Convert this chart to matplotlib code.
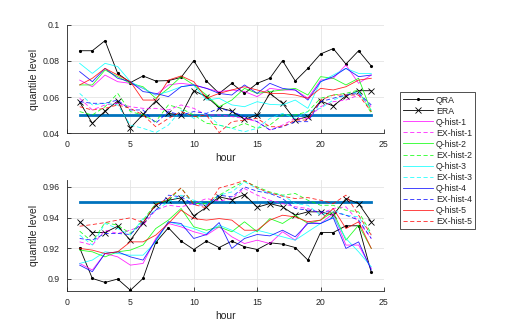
import matplotlib
matplotlib.use("Agg")
import matplotlib.pyplot as plt
from matplotlib.ticker import FuncFormatter

plt.rcParams['font.family'] = ['Liberation Sans', 'DejaVu Sans']

hours = list(range(1, 25))

# ---------- top panel (lower quantile) ----------
top_qra = [0.0857,0.0857,0.0913,0.0731,0.0680,0.0717,0.0689,0.0691,0.0709,0.0802,0.0689,0.0620,
           0.0676,0.0620,0.0676,0.0704,0.0802,0.0689,0.0759,0.0839,0.0869,0.0783,0.0857,0.0772]
top_era = [0.0572,0.0454,0.0522,0.0578,0.0428,0.0504,0.0578,0.0509,0.0500,0.0635,0.0602,0.0541,
           0.0522,0.0476,0.0500,0.0620,0.0565,0.0472,0.0491,0.0578,0.0550,0.0606,0.0635,0.0635]
top_q1 = [0.0694,0.0657,0.0722,0.0685,0.0676,0.0648,0.0611,0.0667,0.0676,0.0667,0.0648,0.0630,
          0.0639,0.0630,0.0602,0.0648,0.0639,0.0639,0.0593,0.0694,0.0704,0.0778,0.0676,0.0722]
top_ex1 = [0.0593,0.0528,0.0556,0.0565,0.0546,0.0537,0.0537,0.0528,0.0556,0.0537,0.0500,0.0500,
           0.0491,0.0481,0.0463,0.0417,0.0444,0.0481,0.0481,0.0546,0.0574,0.0583,0.0611,0.0546]
top_q2 = [0.0667,0.0667,0.0750,0.0713,0.0676,0.0657,0.0593,0.0648,0.0713,0.0667,0.0611,0.0546,
          0.0583,0.0648,0.0620,0.0630,0.0639,0.0648,0.0611,0.0713,0.0704,0.0667,0.0704,0.0519]
top_ex2 = [0.0519,0.0500,0.0546,0.0620,0.0519,0.0500,0.0463,0.0556,0.0537,0.0500,0.0454,0.0444,
           0.0426,0.0454,0.0426,0.0444,0.0500,0.0500,0.0519,0.0593,0.0611,0.0620,0.0639,0.0509]
top_q3 = [0.0787,0.0731,0.0787,0.0769,0.0685,0.0648,0.0611,0.0630,0.0657,0.0667,0.0583,0.0593,
          0.0556,0.0546,0.0574,0.0559,0.0556,0.0583,0.0537,0.0685,0.0722,0.0759,0.0731,0.0731]
top_ex3 = [0.0620,0.0556,0.0565,0.0556,0.0444,0.0426,0.0402,0.0444,0.0528,0.0481,0.0509,0.0444,
           0.0426,0.0407,0.0426,0.0481,0.0509,0.0481,0.0519,0.0537,0.0583,0.0611,0.0630,0.0528]
top_q4 = [0.0741,0.0685,0.0759,0.0704,0.0685,0.0630,0.0620,0.0602,0.0657,0.0667,0.0648,0.0620,
          0.0611,0.0667,0.0620,0.0676,0.0648,0.0639,0.0583,0.0685,0.0713,0.0759,0.0713,0.0722]
top_ex4 = [0.0574,0.0565,0.0565,0.0583,0.0528,0.0528,0.0454,0.0519,0.0500,0.0519,0.0509,0.0537,
           0.0519,0.0491,0.0463,0.0417,0.0435,0.0463,0.0463,0.0574,0.0593,0.0611,0.0620,0.0556]
top_q5 = [0.0667,0.0704,0.0759,0.0722,0.0685,0.0583,0.0583,0.0694,0.0717,0.0685,0.0593,0.0620,
          0.0639,0.0657,0.0639,0.0620,0.0620,0.0611,0.0593,0.0648,0.0639,0.0657,0.0694,0.0704]
top_ex5 = [0.0546,0.0528,0.0537,0.0556,0.0537,0.0500,0.0435,0.0481,0.0519,0.0491,0.0500,0.0402,
           0.0463,0.0472,0.0481,0.0435,0.0435,0.0472,0.0472,0.0583,0.0611,0.0611,0.0611,0.0519]
top_target = 0.05

# ---------- bottom panel (upper quantile) ----------
bot_qra = [0.9202,0.9002,0.8976,0.8998,0.8925,0.9002,0.9237,0.9333,0.9246,0.9191,0.9246,0.9204,
           0.9246,0.9209,0.9191,0.9235,0.9226,0.9204,0.9122,0.9302,0.9302,0.9346,0.9346,0.9041]
bot_era = [0.9372,0.9302,0.9302,0.9343,0.9252,0.9365,0.9485,0.9513,0.9528,0.9411,0.9467,0.9535,
           0.9517,0.9550,0.9467,0.9491,0.9470,0.9415,0.9437,0.9437,0.9415,0.9524,0.9491,0.9372]
bot_q1 = [0.9100,0.9057,0.9165,0.9143,0.9089,0.9100,0.9263,0.9361,0.9339,0.9307,0.9285,0.9339,
          0.9274,0.9230,0.9252,0.9230,0.9307,0.9252,0.9372,0.9361,0.9426,0.9220,0.9220,0.9067]
bot_ex1 = [0.9241,0.9220,0.9317,0.9296,0.9317,0.9350,0.9448,0.9480,0.9470,0.9491,0.9524,0.9507,
           0.9524,0.9589,0.9546,0.9513,0.9491,0.9470,0.9459,0.9426,0.9459,0.9470,0.9372,0.9263]
bot_q2 = [0.9187,0.9176,0.9143,0.9176,0.9187,0.9220,0.9328,0.9383,0.9459,0.9339,0.9317,0.9339,
          0.9307,0.9372,0.9307,0.9393,0.9361,0.9415,0.9361,0.9383,0.9437,0.9252,0.9350,0.9198]
bot_ex2 = [0.9311,0.9241,0.9367,0.9350,0.9296,0.9383,0.9491,0.9513,0.9593,0.9491,0.9491,0.9546,
           0.9593,0.9637,0.9600,0.9567,0.9546,0.9557,0.9513,0.9480,0.9480,0.9448,0.9437,0.9296]
bot_q3 = [0.9100,0.9122,0.9176,0.9165,0.9154,0.9154,0.9241,0.9372,0.9350,0.9328,0.9296,0.9350,
          0.9317,0.9274,0.9317,0.9296,0.9274,0.9252,0.9307,0.9361,0.9404,0.9263,0.9176,0.9078]
bot_ex3 = [0.9285,0.9220,0.9361,0.9328,0.9285,0.9393,0.9448,0.9502,0.9546,0.9513,0.9485,0.9546,
           0.9567,0.9633,0.9589,0.9557,0.9546,0.9491,0.9480,0.9415,0.9448,0.9415,0.9404,0.9285]
bot_q4 = [0.9089,0.9046,0.9165,0.9176,0.9143,0.9122,0.9252,0.9372,0.9361,0.9263,0.9289,0.9367,
          0.9198,0.9263,0.9289,0.9280,0.9317,0.9274,0.9361,0.9361,0.9398,0.9198,0.9241,0.9057]
bot_ex4 = [0.9263,0.9252,0.9296,0.9296,0.9289,0.9372,0.9448,0.9546,0.9535,0.9485,0.9480,0.9546,
           0.9535,0.9600,0.9572,0.9557,0.9524,0.9459,0.9448,0.9437,0.9437,0.9415,0.9383,0.9263]
bot_q5 = [0.9198,0.9187,0.9165,0.9176,0.9241,0.9241,0.9285,0.9361,0.9448,0.9393,0.9383,0.9393,
          0.9383,0.9317,0.9317,0.9383,0.9415,0.9404,0.9372,0.9383,0.9459,0.9328,0.9372,0.9198]
bot_ex5 = [0.9343,0.9354,0.9367,0.9383,0.9398,0.9367,0.9485,0.9524,0.9593,0.9485,0.9463,0.9593,
           0.9615,0.9642,0.9593,0.9561,0.9539,0.9524,0.9530,0.9513,0.9491,0.9546,0.9415,0.9285]
bot_target = 0.95

labels = ['QRA', 'ERA', 'Q-hist-1', 'EX-hist-1', 'Q-hist-2', 'EX-hist-2',
          'Q-hist-3', 'EX-hist-3', 'Q-hist-4', 'EX-hist-4', 'Q-hist-5', 'EX-hist-5']
hist_colors = ['#ff00ff', '#00ff00', '#00ffff', '#0000ff', '#ff0000']

top_series = [top_qra, top_era, top_q1, top_ex1, top_q2, top_ex2, top_q3, top_ex3,
              top_q4, top_ex4, top_q5, top_ex5]
bot_series = [bot_qra, bot_era, bot_q1, bot_ex1, bot_q2, bot_ex2, bot_q3, bot_ex3,
              bot_q4, bot_ex4, bot_q5, bot_ex5]

fig = plt.figure(figsize=(5.2, 3.28), dpi=100)
ax1 = fig.add_axes([0.1288, 0.5945, 0.6096, 0.3293])
ax2 = fig.add_axes([0.1288, 0.1128, 0.6096, 0.3384])

txt = '#262626'


def draw(ax, series, target):
    handles = []
    for i, (lab, ys) in enumerate(zip(labels, series)):
        if i == 0:
            h, = ax.plot(hours, ys, color='k', lw=0.6, marker='.', ms=2.5)
        elif i == 1:
            h, = ax.plot(hours, ys, color='k', lw=0.6, marker='x', ms=4, mew=0.6)
        else:
            c = hist_colors[(i - 2) // 2]
            ls = '-' if i % 2 == 0 else (0, (5, 3))
            h, = ax.plot(hours, ys, color=c, lw=0.6, ls=ls, alpha=0.85)
        handles.append(h)
    ax.plot([hours[0], hours[-1]], [target, target], color='#0072BD', lw=2.0, zorder=1.5)
    ax.set_xlim(0, 25)
    ax.set_xticks([0, 5, 10, 15, 20, 25])
    ax.grid(True, color='#e4e4e4', lw=0.6)
    ax.set_axisbelow(True)
    for s in ['top', 'right']:
        ax.spines[s].set_visible(False)
    for s in ['left', 'bottom']:
        ax.spines[s].set_color(txt)
        ax.spines[s].set_linewidth(0.6)
    ax.tick_params(direction='in', length=3, width=0.6, colors=txt, labelsize=6.3, pad=5)
    ax.yaxis.set_major_formatter(FuncFormatter(lambda v, p: '%g' % round(v, 4)))
    ax.set_xlabel('hour', fontsize=7.5, color=txt, labelpad=3)
    ax.set_ylabel('quantile level', fontsize=7.5, color=txt, labelpad=3)
    return handles


handles = draw(ax1, top_series, top_target)
ax1.set_ylim(0.04, 0.1)
ax1.set_yticks([0.04, 0.06, 0.08, 0.1])
draw(ax2, bot_series, bot_target)
ax2.set_ylim(0.892, 0.9645)
ax2.set_yticks([0.9, 0.92, 0.94, 0.96])

leg = fig.legend(handles, labels, loc='upper left', bbox_to_anchor=(0.769, 0.7195),
                 fontsize=6.3, frameon=True, fancybox=False, framealpha=1,
                 edgecolor='#333333', handlelength=3.4, labelspacing=0.23,
                 borderpad=0.4, handletextpad=0.3, borderaxespad=0)
leg.get_frame().set_linewidth(0.6)
for t in leg.get_texts():
    t.set_color(txt)

fig.savefig('out.png', dpi=100)
